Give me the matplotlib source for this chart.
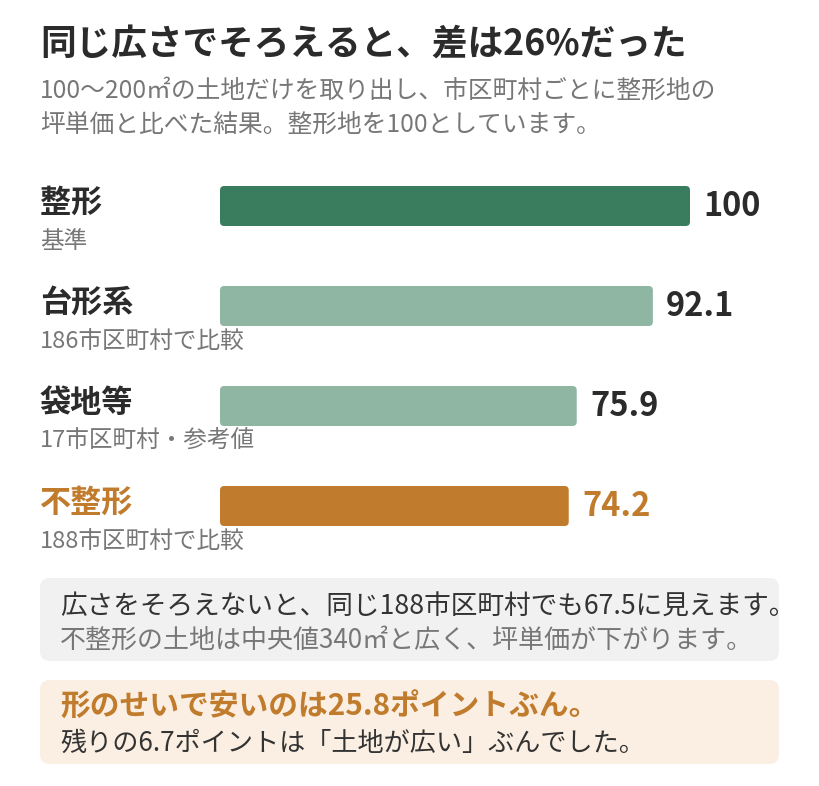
import matplotlib
matplotlib.use("Agg")
import matplotlib.pyplot as plt
from matplotlib.patches import FancyBboxPatch
from matplotlib.transforms import blended_transform_factory

plt.rcParams['font.family'] = ['Noto Sans CJK JP', 'DejaVu Sans']

# data
categories = ["整形", "台形系", "袋地等", "不整形"]
notes = ["基準", "186市区町村で比較", "17市区町村・参考値", "188市区町村で比較"]
values = [100, 92.1, 75.9, 74.2]
value_labels = ["100", "92.1", "75.9", "74.2"]

title = "同じ広さでそろえると、差は26%だった"
subtitle = ["100〜200㎡の土地だけを取り出し、市区町村ごとに整形地の",
            "坪単価と比べた結果。整形地を100としています。"]
gray_note = ["広さをそろえないと、同じ188市区町村でも67.5に見えます。",
             "不整形の土地は中央値340㎡と広く、坪単価が下がります。"]
orange_note = ["形のせいで安いのは25.8ポイントぶん。",
               "残りの6.7ポイントは「土地が広い」ぶんでした。"]

DARK = "#2b2b2b"
GRAY = "#777777"
GREEN = "#3a7d5e"
LIGHT = "#8fb6a3"
ORANGE = "#c07b2c"
bar_colors = [GREEN, LIGHT, LIGHT, ORANGE]
label_colors = [DARK, DARK, DARK, ORANGE]

W, H = 820, 786
fig = plt.figure(figsize=(W / 100, H / 100), dpi=100)
fig.patch.set_facecolor("white")


def fx(px):
    return px / W


def fy(py):
    return 1 - py / H


# header
fig.text(fx(40), fy(45), title, fontsize=25.7, fontweight="bold", color=DARK, va="center")
fig.text(fx(40), fy(91), subtitle[0], fontsize=17.8, color=GRAY, va="center")
fig.text(fx(40), fy(125), subtitle[1], fontsize=17.8, color=GRAY, va="center")

# bars
ax = fig.add_axes([fx(220), fy(556), 470 / W, 400 / H])
ax.set_xlim(0, 100)
ax.set_ylim(3.5, -0.5)
ax.axis("off")

bar_h = 0.4
asp = (4 / 400) / (100 / 470)
for i, (v, c) in enumerate(zip(values, bar_colors)):
    ax.add_patch(FancyBboxPatch((0, i - bar_h / 2), v, bar_h,
                                boxstyle="round,pad=0,rounding_size=0.9",
                                mutation_aspect=asp, fc=c, ec="none"))
    ax.text(v + 2.8, i, value_labels[i], fontsize=23.5, fontweight="bold",
            color=label_colors[i] if i == 3 else DARK, va="center", ha="left")

tr = blended_transform_factory(fig.transFigure, ax.transData)
for i, (cat, note) in enumerate(zip(categories, notes)):
    ax.text(fx(40), i - 0.03, cat, transform=tr, fontsize=22.4, fontweight="bold",
            color=label_colors[i], va="center", clip_on=False)
    ax.text(fx(40), i + 0.35, note, transform=tr, fontsize=17, color=GRAY,
            va="center", clip_on=False)

# note boxes
fig.patches.append(FancyBboxPatch((fx(40), fy(661)), fx(739), 83 / H,
                                  boxstyle="round,pad=0,rounding_size=0.012",
                                  mutation_aspect=W / H, fc="#f1f1f1", ec="none",
                                  transform=fig.transFigure, figure=fig))
fig.patches.append(FancyBboxPatch((fx(40), fy(764)), fx(739), 84 / H,
                                  boxstyle="round,pad=0,rounding_size=0.012",
                                  mutation_aspect=W / H, fc="#faefe2", ec="none",
                                  transform=fig.transFigure, figure=fig))

fig.text(fx(60), fy(606), gray_note[0], fontsize=19.2, color="#333333", va="center")
fig.text(fx(60), fy(640), gray_note[1], fontsize=18.7, color=GRAY, va="center")
fig.text(fx(60), fy(707), orange_note[0], fontsize=21.4, fontweight="bold", color=ORANGE, va="center")
fig.text(fx(60), fy(743), orange_note[1], fontsize=18.8, color="#333333", va="center")

fig.savefig("out.png", dpi=100)
